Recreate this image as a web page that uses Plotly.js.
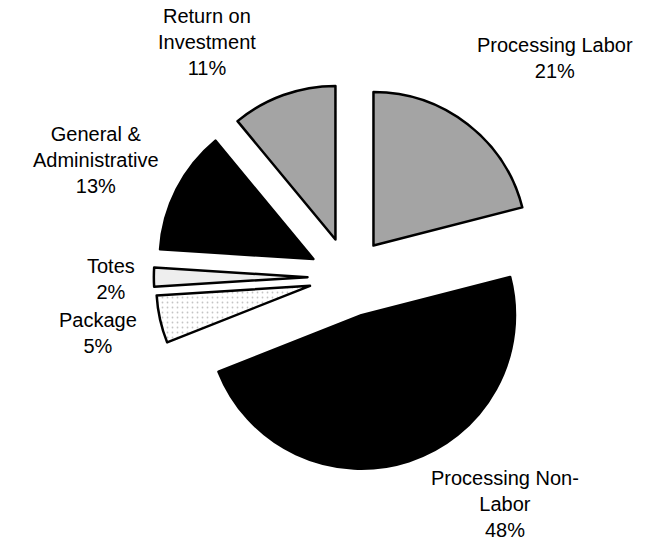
<!DOCTYPE html>
<html>
<head>
<meta charset="utf-8">
<script src="https://cdn.plot.ly/plotly-3.0.1.min.js"></script>
<style>html,body{margin:0;padding:0;background:#fff;}#chart{width:666px;height:545px;}</style>
</head>
<body>
<div id="chart"></div>
<script>
// Data (clockwise from 12 o'clock)
var categories = ["Processing Labor", "Processing Non-Labor", "Package", "Totes", "General & Administrative", "Return on Investment"];
var labelText = ["Processing Labor", "Processing Non-<br>Labor", "Package", "Totes", "General &<br>Administrative", "Return on<br>Investment"];
var shares = [21, 48, 5, 2, 13, 11];

// Styling
var fills = ["#a4a4a4", "#000000", "#f7f7f7", "#eeeeee", "#000000", "#a4a4a4"];
var pulls = [0.26, 0.26, 0.26, 0.27, 0.26, 0.26];
var labelPos = [[555, 58], [505, 504], [98, 333], [111, 279], [96, 160], [207, 42]];

var W = 666, H = 545;
var trace = {
  type: "pie",
  labels: categories,
  values: shares,
  sort: false,
  direction: "clockwise",
  rotation: 0,
  pull: pulls,
  textinfo: "none",
  hoverinfo: "label+percent",
  marker: {
    colors: fills,
    line: {color: "#000", width: 2.5},
    pattern: {
      shape: ["", "", ".", "", "", ""],
      fgcolor: ["#000", "#000", "#c4c4c4", "#000", "#000", "#000"],
      size: 5,
      solidity: 0.1
    }
  },
  domain: {x: [0.231, 0.817], y: [0.133, 0.850]},
  showlegend: false
};

var annotations = categories.map(function (c, i) {
  return {
    xref: "paper", yref: "paper",
    x: labelPos[i][0] / W, y: 1 - labelPos[i][1] / H,
    xanchor: "center", yanchor: "middle",
    text: labelText[i] + "<br>" + shares[i] + "%",
    showarrow: false,
    align: "center",
    font: {family: "Liberation Sans, Arial, sans-serif", size: 20, color: "#000"}
  };
});

var layout = {
  width: W, height: H,
  margin: {l: 0, r: 0, t: 0, b: 0},
  paper_bgcolor: "#fff",
  plot_bgcolor: "#fff",
  annotations: annotations,
  showlegend: false
};

Plotly.newPlot("chart", [trace], layout, {displayModeBar: false, staticPlot: true});
</script>
</body>
</html>
